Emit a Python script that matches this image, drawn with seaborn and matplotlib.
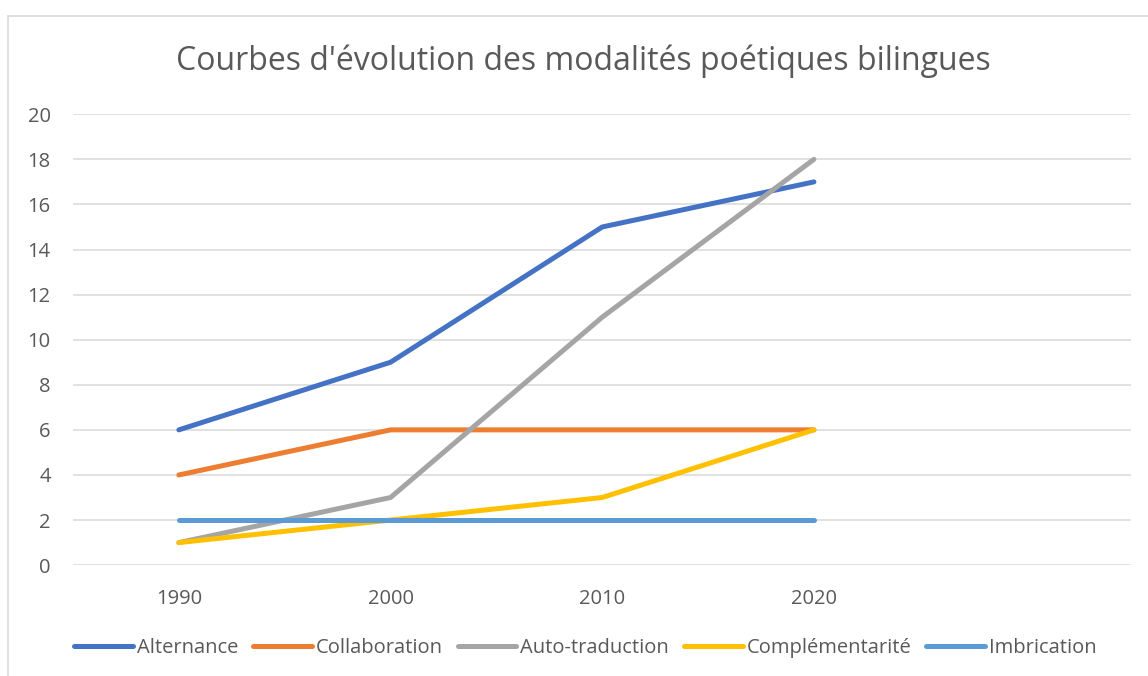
import pandas as pd
import seaborn as sns
from matplotlib import pyplot as plt
from matplotlib.patches import Rectangle

# Data
years = [1990, 2000, 2010, 2020]
alternance = [6, 9, 15, 17]
collaboration = [4, 6, 6, 6]
auto_traduction = [1, 3, 11, 18]
complementarite = [1, 2, 3, 6]
imbrication = [2, 2, 2, 2]

series_names = ['Alternance', 'Collaboration', 'Auto-traduction', 'Complémentarité', 'Imbrication']
series_values = [alternance, collaboration, auto_traduction, complementarite, imbrication]
colors = ['#4472C4', '#ED7D31', '#A5A5A5', '#FFC000', '#5B9BD5']

#Build long data frame
rows = []
for name, vals in zip(series_names, series_values):
    for y, v in zip(years, vals):
        rows.append({'Année': y, 'Valeur': v, 'Modalité': name})
df = pd.DataFrame(rows)

#Plot setup
sns.set_style('white')
plt.rcParams['font.family'] = ['Open Sans', 'DejaVu Sans']
fig = plt.figure(figsize=(11.48, 6.76), dpi=100)
ax = fig.add_axes([0.0636, 0.164, 0.922, 0.667])

g = sns.lineplot(data=df, x='Année', y='Valeur', hue='Modalité', hue_order=series_names,
                 palette=colors, linewidth=3.6, ax=ax, legend=False)
for line in ax.lines:
    line.set_solid_capstyle('round')
    line.set_solid_joinstyle('round')

g.set(xlim=(1985, 2035), ylim=(0, 20))
ax.set_xticks(years)
ax.set_xticklabels([str(y) for y in years])
ax.set_yticks(range(0, 21, 2))
ax.set_xlabel('')
ax.set_ylabel('')
ax.grid(axis='y', color='#D9D9D9', linewidth=1.1)
ax.set_axisbelow(True)
for s in ax.spines.values():
    s.set_visible(False)
ax.tick_params(axis='both', length=0, labelsize=14.5, colors='#595959')
ax.tick_params(axis='x', pad=17)
ax.tick_params(axis='y', pad=16)

#Title
fig.text(0.508, 0.91, "Courbes d'évolution des modalités poétiques bilingues",
         ha='center', va='center', fontsize=23, color='#595959')

#Legend
handles = [plt.Line2D([], [], color=c, linewidth=3.6, solid_capstyle='round') for c in colors]
fig.legend(handles, series_names, loc='center', bbox_to_anchor=(0.51, 0.041), ncol=5,
           frameon=False, fontsize=14.5, handlelength=2.9, handletextpad=0.2,
           columnspacing=0.75, labelcolor='#595959')

#Chart border
fig.patches.append(Rectangle((8 / 1148, -0.05), 1.2, 1 - 16 / 676 + 0.05,
                             transform=fig.transFigure, fill=False,
                             edgecolor='#D9D9D9', linewidth=1.2))

fig.savefig('out.png', dpi=100)
